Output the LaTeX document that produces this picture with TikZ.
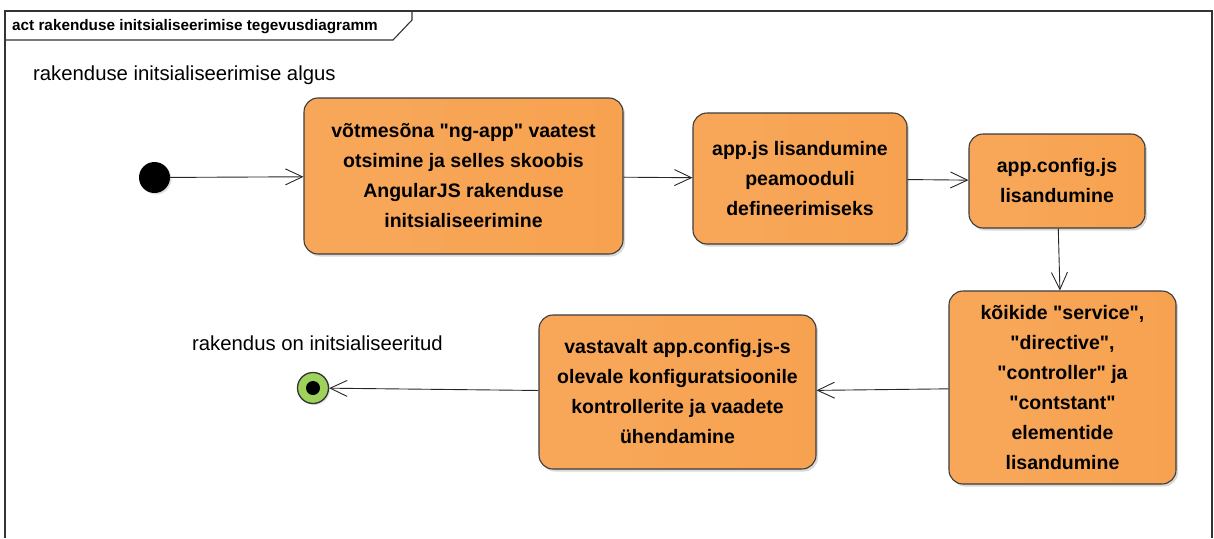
\documentclass[tikz,border=0pt]{standalone}
\usepackage{fontspec}
\setmainfont{Liberation Sans}
\usetikzlibrary{arrows.meta,shadows}

\definecolor{actlight}{HTML}{FCC692}
\definecolor{actdark}{HTML}{F7A250}
\definecolor{actedge}{HTML}{3C3C3C}
\definecolor{finalgreen}{HTML}{9FD25A}

% straight double quote, untouched by TeX ligatures
\newcommand{\sq}{\textquotedbl{}}

\begin{document}
\begin{tikzpicture}[x=1pt,y=-1pt,
  action/.style={draw=actedge, line width=1.1pt, rounded corners=14pt,
    left color=actdark!85!actlight, middle color=actlight, right color=actdark,
    drop shadow={shadow xshift=2pt, shadow yshift=-2.5pt, opacity=0.3},
    inner sep=0pt, align=center, text=black,
    font=\bfseries\fontsize{19.5}{30}\selectfont},
  flow/.style={draw=black!85, line width=0.9pt,
    -{Straight Barb[length=17pt,width=16pt,line width=0.9pt]}},
  freelabel/.style={anchor=base west, inner sep=0pt, text=black,
    font=\fontsize{20.3}{24}\selectfont},
  startnode/.style={circle, fill=black, minimum size=31pt, inner sep=0pt,
    drop shadow={shadow xshift=1.5pt, shadow yshift=-1.5pt, opacity=0.25}},
  finalnode/.style={circle, fill=finalgreen, draw=black!80, line width=1.3pt,
    minimum size=31pt, inner sep=0pt,
    drop shadow={shadow xshift=1.5pt, shadow yshift=-1.5pt, opacity=0.25}}]

\useasboundingbox (0,0) rectangle (1214,538);

% diagram frame with its name tab
\draw[draw=black!80, line width=1.4pt] (5,538) -- (5,11) -- (1212,11) -- (1212,538);
\draw[draw=black!80, line width=1.1pt] (5,40) -- (393,40) -- (412,20) -- (412,11);
\node[anchor=base west, inner sep=0pt, font=\bfseries\fontsize{15.3}{17}\selectfont]
  (title) at (12,30) {act rakenduse initsialiseerimise tegevusdiagramm};

% initial and final nodes
\node[startnode] (start) at (154.5,177.5) {};
\node[finalnode] (final) at (313,388) {};
\fill[black] (final.center) circle (7pt);

\node[freelabel] (startlabel) at (33,80) {rakenduse initsialiseerimise algus};
\node[freelabel] (finallabel) at (192,350) {rakendus on initsialiseeritud};

% actions
\node[action, minimum width=319pt, minimum height=156pt] (b1) at (463.5,176)
  {võtmesõna \sq ng-app\sq\ vaatest\\otsimine ja selles skoobis\\AngularJS rakenduse\\initsialiseerimine};
\node[action, minimum width=214pt, minimum height=131pt] (b2) at (800,178.5)
  {app.js lisandumine\\peamooduli\\defineerimiseks};
\node[action, minimum width=176pt, minimum height=94pt] (b3) at (1057,181)
  {app.config.js\\lisandumine};
\node[action, minimum width=227pt, minimum height=193pt] (b4) at (1062.5,387.5)
  {kõikide \sq service\sq,\\\sq directive\sq,\\\sq controller\sq\ ja\\\sq contstant\sq\\elementide\\lisandumine};
\node[action, minimum width=277pt, minimum height=154pt] (b5) at (677.5,392)
  {vastavalt app.config.js-s\\olevale konfiguratsioonile\\kontrollerite ja vaadete\\ühendamine};

% control flow
\draw[flow] (start) -- (b1);
\draw[flow] (b1) -- (b2);
\draw[flow] (b2) -- (b3);
\draw[flow] (b3) -- (b4);
\draw[flow] (b4) -- (b5);
\draw[flow] (b5) -- (final);

\end{tikzpicture}
\end{document}
